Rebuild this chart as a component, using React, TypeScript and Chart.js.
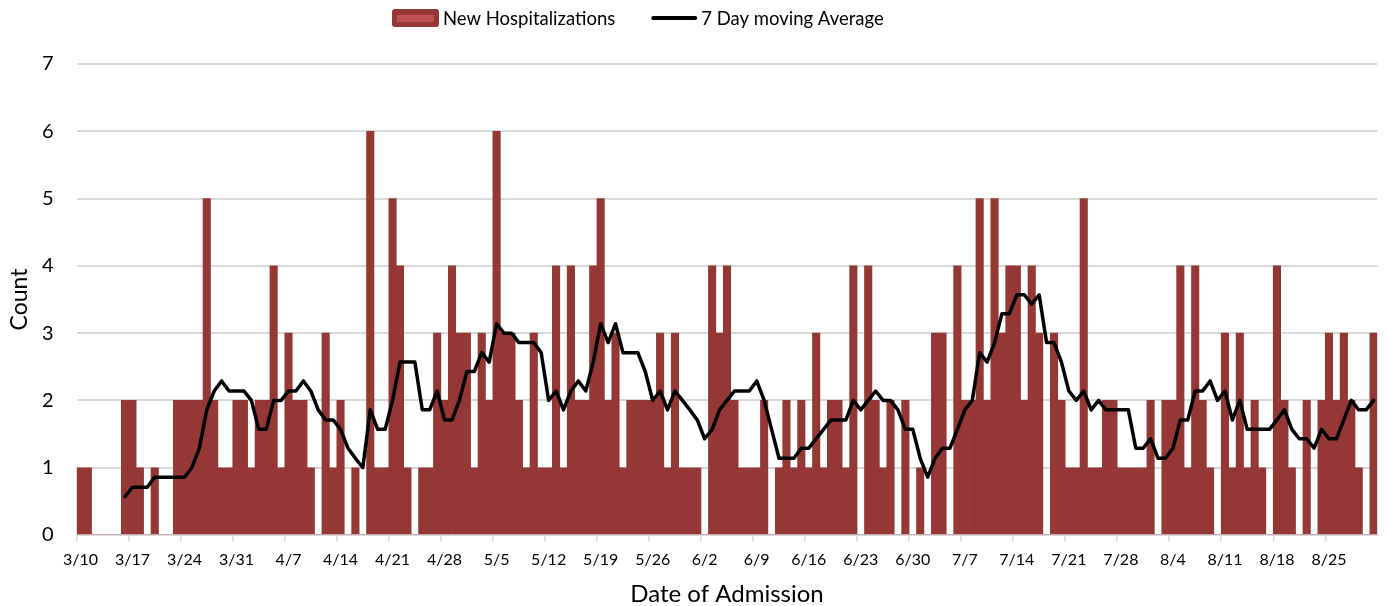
import React, { useEffect, useRef } from "react";
import { Chart, registerables } from "chart.js";

Chart.register(...registerables);

// Daily categories (date of admission), 3/10 through 8/31
const categories: string[] = [
  "3/10", "3/11", "3/12", "3/13", "3/14", "3/15", "3/16", "3/17", "3/18", "3/19", "3/20",
  "3/21", "3/22", "3/23", "3/24", "3/25", "3/26", "3/27", "3/28", "3/29", "3/30", "3/31",
  "4/1", "4/2", "4/3", "4/4", "4/5", "4/6", "4/7", "4/8", "4/9", "4/10", "4/11", "4/12", "4/13", "4/14", "4/15",
  "4/16", "4/17", "4/18", "4/19", "4/20", "4/21", "4/22", "4/23", "4/24", "4/25", "4/26", "4/27", "4/28", "4/29", "4/30",
  "5/1", "5/2", "5/3", "5/4", "5/5", "5/6", "5/7", "5/8", "5/9", "5/10", "5/11", "5/12", "5/13", "5/14", "5/15", "5/16",
  "5/17", "5/18", "5/19", "5/20", "5/21", "5/22", "5/23", "5/24", "5/25", "5/26", "5/27", "5/28", "5/29", "5/30", "5/31",
  "6/1", "6/2", "6/3", "6/4", "6/5", "6/6", "6/7", "6/8", "6/9", "6/10", "6/11", "6/12", "6/13", "6/14", "6/15",
  "6/16", "6/17", "6/18", "6/19", "6/20", "6/21", "6/22", "6/23", "6/24", "6/25", "6/26", "6/27", "6/28", "6/29", "6/30",
  "7/1", "7/2", "7/3", "7/4", "7/5", "7/6", "7/7", "7/8", "7/9", "7/10", "7/11", "7/12", "7/13", "7/14", "7/15", "7/16",
  "7/17", "7/18", "7/19", "7/20", "7/21", "7/22", "7/23", "7/24", "7/25", "7/26", "7/27", "7/28", "7/29", "7/30", "7/31",
  "8/1", "8/2", "8/3", "8/4", "8/5", "8/6", "8/7", "8/8", "8/9", "8/10", "8/11", "8/12", "8/13", "8/14", "8/15", "8/16",
  "8/17", "8/18", "8/19", "8/20", "8/21", "8/22", "8/23", "8/24", "8/25", "8/26", "8/27", "8/28", "8/29", "8/30", "8/31",
];

// Weekly tick labels shown on the x axis
const tickLabels: string[] = [
  "3/10", "3/17", "3/24", "3/31", "4/7", "4/14", "4/21", "4/28", "5/5", "5/12", "5/19", "5/26",
  "6/2", "6/9", "6/16", "6/23", "6/30", "7/7", "7/14", "7/21", "7/28", "8/4", "8/11", "8/18", "8/25",
];

// New hospitalizations per day (one row per week, starting 3/10)
const newHospitalizations: number[] = [
  1, 1, 0, 0, 0, 0, 2,
  2, 1, 0, 1, 0, 0, 2,
  2, 2, 2, 5, 2, 1, 1,
  2, 2, 1, 2, 2, 4, 1,
  3, 2, 2, 1, 0, 3, 1,
  2, 0, 1, 0, 6, 1, 1,
  5, 4, 1, 0, 1, 1, 3,
  2, 4, 3, 3, 1, 3, 2,
  6, 3, 3, 2, 1, 3, 1,
  1, 4, 1, 4, 2, 2, 4,
  5, 2, 3, 1, 2, 2, 2,
  2, 3, 1, 3, 1, 1, 1,
  0, 4, 3, 4, 2, 1, 1,
  1, 2, 0, 1, 2, 1, 2,
  1, 3, 1, 2, 2, 1, 4,
  0, 4, 2, 1, 2, 0, 2,
  0, 1, 0, 3, 3, 0, 4,
  2, 2, 5, 2, 5, 3, 4,
  4, 2, 4, 3, 0, 3, 2,
  1, 1, 5, 1, 1, 2, 2,
  1, 1, 1, 1, 2, 0, 2,
  2, 4, 1, 4, 2, 1, 0,
  3, 1, 3, 1, 2, 1, 0,
  4, 2, 1, 0, 2, 0, 2,
  3, 2, 3, 2, 1, 0, 3,
];

// 7 day moving average line (starts 3/16)
const movingAverage: (number | null)[] = [
  null, null, null, null, null, null, 0.57,
  0.71, 0.71, 0.71, 0.86, 0.86, 0.86, 0.86,
  0.86, 1.0, 1.29, 1.86, 2.14, 2.29, 2.14,
  2.14, 2.14, 2.0, 1.57, 1.57, 2.0, 2.0,
  2.14, 2.14, 2.29, 2.14, 1.86, 1.71, 1.71,
  1.57, 1.29, 1.14, 1.0, 1.86, 1.57, 1.57,
  2.0, 2.57, 2.57, 2.57, 1.86, 1.86, 2.14,
  1.71, 1.71, 2.0, 2.43, 2.43, 2.71, 2.57,
  3.14, 3.0, 3.0, 2.86, 2.86, 2.86, 2.71,
  2.0, 2.14, 1.86, 2.14, 2.29, 2.14, 2.57,
  3.14, 2.86, 3.14, 2.71, 2.71, 2.71, 2.43,
  2.0, 2.14, 1.86, 2.14, 2.0, 1.86, 1.71,
  1.43, 1.57, 1.86, 2.0, 2.14, 2.14, 2.14,
  2.29, 2.0, 1.57, 1.14, 1.14, 1.14, 1.29,
  1.29, 1.43, 1.57, 1.71, 1.71, 1.71, 2.0,
  1.86, 2.0, 2.14, 2.0, 2.0, 1.86, 1.57,
  1.57, 1.14, 0.86, 1.14, 1.29, 1.29, 1.57,
  1.86, 2.0, 2.71, 2.57, 2.86, 3.29, 3.29,
  3.57, 3.57, 3.43, 3.57, 2.86, 2.86, 2.57,
  2.14, 2.0, 2.14, 1.86, 2.0, 1.86, 1.86,
  1.86, 1.86, 1.29, 1.29, 1.43, 1.14, 1.14,
  1.29, 1.71, 1.71, 2.14, 2.14, 2.29, 2.0,
  2.14, 1.71, 2.0, 1.57, 1.57, 1.57, 1.57,
  1.71, 1.86, 1.57, 1.43, 1.43, 1.29, 1.57,
  1.43, 1.43, 1.71, 2.0, 1.86, 1.86, 2.0,
];

const seriesLabels = ["New Hospitalizations", "7 Day moving Average"];

const FONT = "Lato, 'Noto Sans', sans-serif";
const BAR_COLOR = "#953735";
const BAR_LIGHT = "#c0504d";
const GRID = "#d9d9d9";

const legendPlugin = {
  id: "excelLegend",
  afterDraw(chart: any) {
    const ctx: CanvasRenderingContext2D = chart.ctx;
    const ds = chart.data.datasets;
    ctx.save();
    ctx.font = `18.5px ${FONT}`;
    ctx.textBaseline = "middle";
    ctx.textAlign = "left";
    const y = 18;
    let x = 392;
    // bar swatch
    ctx.fillStyle = BAR_COLOR;
    ctx.beginPath();
    (ctx as any).roundRect(x, y - 9, 47, 18, 3);
    ctx.fill();
    ctx.fillStyle = BAR_LIGHT;
    ctx.fillRect(x + 5, y - 3, 37, 7);
    x += 51;
    ctx.fillStyle = "#000";
    ctx.fillText(ds[0].label, x, y + 1);
    x += ctx.measureText(ds[0].label).width + 36;
    // line swatch
    ctx.strokeStyle = "#000";
    ctx.lineWidth = 4;
    ctx.lineCap = "round";
    ctx.beginPath();
    ctx.moveTo(x + 2, y);
    ctx.lineTo(x + 44, y);
    ctx.stroke();
    x += 50;
    ctx.fillText(ds[1].label, x, y + 1);
    ctx.restore();
  },
};

export default function App() {
  const canvasRef = useRef<HTMLCanvasElement | null>(null);

  useEffect(() => {
    document.body.style.margin = "0";
    let chart: Chart | null = null;
    let cancelled = false;

    const build = () => {
      if (cancelled || !canvasRef.current) return;
      chart = new Chart(canvasRef.current, {
        type: "bar",
        data: {
          labels: categories,
          datasets: [
            {
              type: "bar",
              label: seriesLabels[0],
              data: newHospitalizations,
              backgroundColor: BAR_COLOR,
              borderWidth: 0,
              barPercentage: 1,
              categoryPercentage: 1,
              order: 2,
            },
            {
              type: "line",
              label: seriesLabels[1],
              data: movingAverage,
              borderColor: "#000",
              backgroundColor: "#000",
              borderWidth: 3.5,
              pointRadius: 0,
              tension: 0,
              borderJoinStyle: "round",
              borderCapStyle: "round",
              spanGaps: false,
              order: 1,
            } as any,
          ],
        },
        options: {
          responsive: false,
          devicePixelRatio: 1,
          animation: false,
          layout: { padding: { top: 64, right: 10.7, left: 0, bottom: 0 } },
          plugins: {
            legend: { display: false },
            tooltip: { enabled: false },
          },
          scales: {
            x: {
              type: "category",
              offset: true,
              afterFit: (scale: any) => {
                scale.height = 71;
              },
              grid: {
                offset: true,
                drawOnChartArea: false,
                drawTicks: true,
                tickLength: 6,
                lineWidth: 1.5,
                color: (c: any) =>
                  c.index !== undefined && tickLabels.includes(categories[c.index]) ? GRID : "rgba(0,0,0,0)",
              },
              border: { display: true, color: GRID, width: 2 },
              ticks: {
                autoSkip: false,
                maxRotation: 0,
                minRotation: 0,
                padding: 9,
                color: "#000",
                font: { family: FONT, size: 16 },
                callback: (_v: any, i: number) => (tickLabels.includes(categories[i]) ? categories[i] : ""),
              },
              title: {
                display: true,
                text: "Date of Admission",
                color: "#000",
                font: { family: FONT, size: 24, lineHeight: 1 },
                padding: { top: 0, bottom: 0 },
              },
            },
            y: {
              min: 0,
              max: 7,
              afterFit: (scale: any) => {
                scale.width = 76.7;
              },
              grid: { color: GRID, lineWidth: 2, drawTicks: false },
              border: { display: false },
              ticks: {
                stepSize: 1,
                padding: 23,
                color: "#000",
                font: { family: FONT, size: 20 },
              },
              title: {
                display: true,
                text: "Count",
                color: "#000",
                font: { family: FONT, size: 23, lineHeight: 1 },
                padding: { top: 8, bottom: 0 },
              },
            },
          },
        },
        plugins: [legendPlugin],
      } as any);
    };

    const fontsApi = (document as any).fonts;
    if (fontsApi && fontsApi.load) {
      Promise.all([fontsApi.load(`20px Lato`), fontsApi.load(`16px Lato`)])
        .catch(() => null)
        .then(build);
    } else {
      build();
    }

    return () => {
      cancelled = true;
      if (chart) chart.destroy();
    };
  }, []);

  return (
    <div style={{ width: 1388, height: 606, position: "relative" }}>
      <canvas ref={canvasRef} width={1388} height={606} style={{ display: "block" }} />
    </div>
  );
}
